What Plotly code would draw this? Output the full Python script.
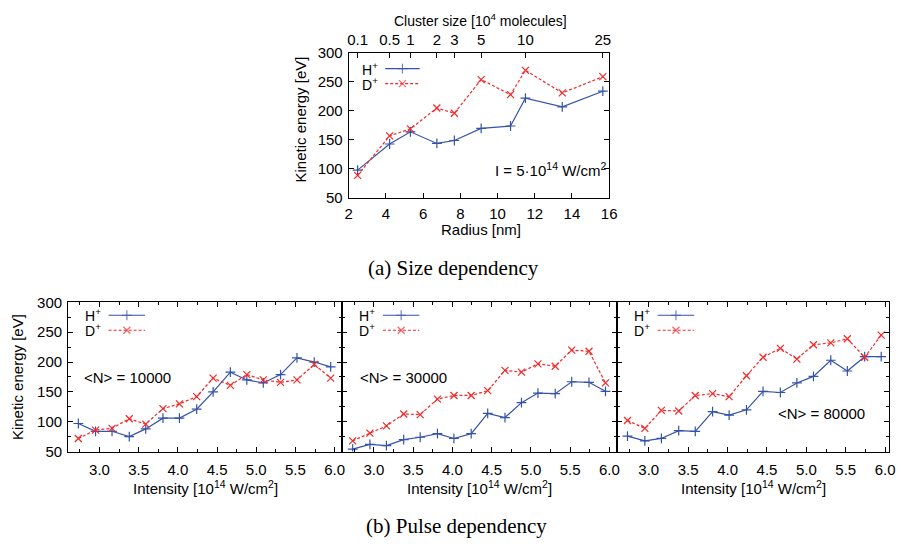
import plotly.graph_objects as go

# ---------------- data ----------------
# (a) size dependency
radius = [2.48, 4.2, 5.32, 6.74, 7.68, 9.12, 10.7, 11.5, 13.48, 15.66]
h_size = [98, 143, 164, 144, 149, 170, 174, 222, 207, 234]
d_size = [89, 157, 169, 205, 196, 254, 228, 270, 231, 259]
cluster_labels = ["0.1", "0.5", "1", "2", "3", "5", "10", "25"]
cluster_radius = [2.48, 4.2, 5.32, 6.74, 7.68, 9.12, 11.5, 15.66]

# (b) pulse dependency
intensity = [2.73, 2.95, 3.16, 3.38, 3.59, 3.81, 4.02, 4.24,
             4.45, 4.67, 4.88, 5.09, 5.31, 5.52, 5.74, 5.95]
h_10k = [97, 84, 84, 75, 88, 106, 106, 121, 150, 183, 170, 165, 179, 207, 200, 192]
d_10k = [72, 86, 89, 105, 96, 122, 130, 142, 173, 161, 179, 170, 166, 170, 196, 173]
h_30k = [54, 62, 60, 70, 74, 80, 72, 80, 114, 107, 132, 148, 147, 167, 166, 151]
d_30k = [68, 81, 93, 113, 112, 138, 144, 144, 152, 186, 183, 197, 193, 220, 218, 165]
h_80k = [76, 68, 72, 85, 84, 117, 111, 120, 151, 149, 165, 176, 203, 185, 209, 209]
d_80k = [102, 89, 119, 118, 144, 147, 142, 177, 208, 223, 205, 229, 232, 239, 208, 245]
panel_labels = ["&lt;N&gt; = 10000", "&lt;N&gt; = 30000", "&lt;N&gt; = 80000"]
intensity_ticks = [3.0, 3.5, 4.0, 4.5, 5.0, 5.5, 6.0]
intensity_ticktext = ["3.0", "3.5", "4.0", "4.5", "5.0", "5.5", "6.0"]

# ---------------- style ----------------
W, H = 904, 550
BLUE = "#3352aa"
RED = "#f52828"
FONT = "Liberation Sans, Arial, Helvetica, sans-serif"
SERIF = "Liberation Serif, Times New Roman, serif"
FS = 15


def px(x):
    return x / W


def py(y):
    return 1 - y / H


fig = go.Figure()


def add_pair(x, h, d, xa, ya):
    fig.add_trace(go.Scatter(
        x=x, y=h, mode="lines+markers", xaxis=xa, yaxis=ya, showlegend=False,
        line=dict(color=BLUE, width=1.2),
        marker=dict(symbol="cross-thin", size=7, line=dict(color=BLUE, width=1.2))))
    fig.add_trace(go.Scatter(
        x=x, y=d, mode="lines+markers", xaxis=xa, yaxis=ya, showlegend=False,
        line=dict(color=RED, width=1.2, dash="3px,2px"),
        marker=dict(symbol="x-thin", size=7, line=dict(color=RED, width=1.2))))


add_pair(radius, h_size, d_size, "x", "y")
add_pair(intensity, h_10k, d_10k, "x3", "y3")
add_pair(intensity, h_30k, d_30k, "x4", "y4")
add_pair(intensity, h_80k, d_80k, "x5", "y5")

# invisible trace so that the top (cluster size) axis is drawn
fig.add_trace(go.Scatter(x=cluster_radius, y=[None] * len(cluster_radius), mode="markers",
                         xaxis="x2", yaxis="y", showlegend=False, hoverinfo="skip"))

# legend samples drawn on an invisible pixel-space overlay axis
legend_items = []


def legend_sample(left, y_h, y_d, text_end, l0, l1):
    for yy, col, sym, dash, name in [(y_h, BLUE, "cross-thin", "solid", "H<sup>+</sup>"),
                                    (y_d, RED, "x-thin", "3px,2px", "D<sup>+</sup>")]:
        xm = (l0 + l1) / 2
        fig.add_trace(go.Scatter(
            x=[left + l0, left + xm, left + l1], y=[yy, yy, yy], mode="lines+markers",
            xaxis="x6", yaxis="y6", showlegend=False, hoverinfo="skip",
            line=dict(color=col, width=1.2, dash=dash),
            marker=dict(symbol=sym, size=[0, 7, 0], line=dict(color=col, width=1.2))))
        legend_items.append(dict(x=px(left + text_end), y=py(yy), text=name,
                                 xanchor="right", yanchor="middle"))


legend_sample(349.3, 61.5, 77, 32, 37, 72)
for left in [65, 343, 621.5]:
    legend_sample(left, 316, 331.5, 35, 41, 78)

axis_common = dict(showline=True, linecolor="black", linewidth=1, ticks="inside",
                   ticklen=5, tickcolor="black", tickwidth=1, showgrid=False,
                   zeroline=False, tickfont=dict(family=FONT, size=FS, color="black"))

# top chart axes
fig.update_layout(
    xaxis=dict(domain=[px(349.3), px(613.3)], range=[2, 16], dtick=2, anchor="y",
               mirror=False, ticklabelstandoff=2, **axis_common),
    xaxis2=dict(domain=[px(349.3), px(613.3)], range=[2, 16], overlaying="x", side="top",
                anchor="y", tickvals=cluster_radius, ticktext=cluster_labels,
                ticklabelstandoff=1, **axis_common),
    yaxis=dict(domain=[py(195), py(45.3)], range=[50, 300], dtick=50, anchor="x",
               mirror="ticks", ticklabelstandoff=2, **axis_common),
)

panel_dom = [(65, 343, [2.6, 6.1]), (343, 621.5, [2.6, 6.1]), (621.5, 897, [2.6, 6.05])]
for i, (l, r, rng) in enumerate(panel_dom):
    n = i + 3
    minor = dict(ticks="inside", ticklen=3, tickcolor="black", tickwidth=1, showgrid=False)
    fig.layout[f"xaxis{n}"] = dict(domain=[px(l), px(r)], range=rng, tickvals=intensity_ticks,
                                   ticktext=intensity_ticktext,
                                   anchor=f"y{n}", mirror="ticks", ticklabelstandoff=4,
                                   minor=dict(tickvals=[2.75, 3.25, 3.75, 4.25, 4.75, 5.25, 5.75], **minor),
                                   **axis_common)
    fig.layout[f"yaxis{n}"] = dict(domain=[py(456.7), py(302.7)], range=[50, 300], dtick=50,
                                   anchor=f"x{n}", mirror="ticks", showticklabels=(i == 0),
                                   ticklabelstandoff=2,
                                   minor=dict(dtick=25, **minor), **axis_common)

fig.update_layout(
    xaxis6=dict(domain=[0, 1], range=[0, W], visible=False, anchor="y6", fixedrange=True),
    yaxis6=dict(domain=[0, 1], range=[H, 0], visible=False, anchor="x6", fixedrange=True),
)

ann = []
tf = dict(family=FONT, size=FS, color="black")
lf = dict(family=FONT, size=14, color="black")
for it in legend_items:
    ann.append(dict(xref="paper", yref="paper", showarrow=False, font=lf, **it))


def text(x, y, s, angle=0, font=tf):
    ann.append(dict(xref="paper", yref="paper", x=px(x), y=py(y), text=s, showarrow=False,
                    textangle=angle, font=font, xanchor="center", yanchor="middle"))


text(300, 114, "Kinetic energy [eV]", angle=-90)
text(483, 228, "Radius [nm]")
text(483, 11, "Cluster size [10<sup>4</sup> molecules]", font=dict(family=FONT, size=14, color="black"))
text(554, 166, "I = 5·10<sup>14</sup> W/cm<sup>2</sup>")

text(13, 380, "Kinetic energy [eV]", angle=-90)
for (l, r, _), lab, (lx, ly) in zip(panel_dom, panel_labels, [(125, 380), (404.5, 380), (829, 417)]):
    text((l + r) / 2, 494, "Intensity [10<sup>14</sup> W/cm<sup>2</sup>]")
    text(lx, ly, lab)

cap = dict(family=SERIF, size=21, color="black")
text(456, 267, "(a) Size dependency", font=cap)
text(459, 533, "(b) Pulse dependency", font=cap)

fig.update_layout(width=W, height=H, margin=dict(l=0, r=0, t=0, b=0),
                  paper_bgcolor="white", plot_bgcolor="rgba(0,0,0,0)", annotations=ann,
                  font=dict(family=FONT, size=FS, color="black"), showlegend=False)

fig.write_html("out.html")
